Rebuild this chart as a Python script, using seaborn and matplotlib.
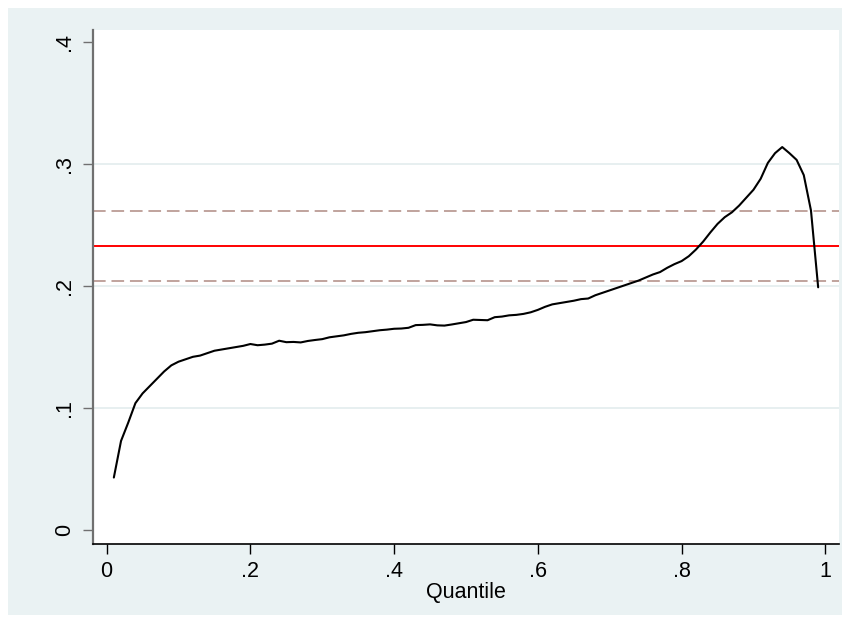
import numpy as np
import pandas as pd
import seaborn as sns
import matplotlib.pyplot as plt
from matplotlib.patches import Rectangle

# quantile process estimates
quantiles = [round(0.01 * i, 2) for i in range(1, 100)]
coef = [
    0.043, 0.073, 0.088, 0.104, 0.112, 0.118, 0.124, 0.130, 0.135, 0.138,
    0.140, 0.142, 0.143, 0.145, 0.147, 0.148, 0.149, 0.150, 0.151, 0.1525,
    0.1515, 0.152, 0.1528, 0.1552, 0.154, 0.1542, 0.1538, 0.155, 0.1558, 0.1565,
    0.158, 0.1588, 0.1596, 0.1608, 0.1617, 0.1622, 0.1630, 0.1638, 0.1643, 0.1650,
    0.1652, 0.1658, 0.1680, 0.1682, 0.1686, 0.1678, 0.1676, 0.1685, 0.1695, 0.1705,
    0.1724, 0.1722, 0.1720, 0.1745, 0.1750, 0.1760, 0.1764, 0.1772, 0.1785, 0.1805,
    0.1830, 0.1850, 0.1860, 0.1870, 0.1880, 0.1893, 0.1898, 0.1925, 0.1945, 0.1965,
    0.1985, 0.2005, 0.2025, 0.2045, 0.2070, 0.2095, 0.2115, 0.2150, 0.2180, 0.2205,
    0.2245, 0.2300, 0.2365, 0.2440, 0.2510, 0.2565, 0.2605, 0.2660, 0.2725, 0.2790,
    0.2880, 0.3010, 0.3090, 0.3140, 0.3090, 0.3035, 0.2910, 0.2620, 0.1990,
]

# OLS estimate and its confidence bounds
ols_coef = 0.233
ols_lo = 0.2045
ols_hi = 0.2615

xticks = [0, 0.2, 0.4, 0.6, 0.8, 1]
xticklabels = ["0", ".2", ".4", ".6", ".8", "1"]
yticks = [0, 0.1, 0.2, 0.3, 0.4]
yticklabels = ["0", ".1", ".2", ".3", ".4"]

df = pd.DataFrame({"Quantile": quantiles, "coef": coef})

sns.set_style("white")
plt.rcParams['font.family'] = ['Liberation Sans', 'DejaVu Sans']

bg = "#EAF2F3"
fig = plt.figure(figsize=(8.5, 6.23), dpi=100)
fig.patch.set_facecolor("white")
fig.patches.append(Rectangle((8 / 850, 8 / 623), 834 / 850, 607 / 623,
                             transform=fig.transFigure, facecolor=bg,
                             edgecolor="none", zorder=-10))

ax = fig.add_axes([93 / 850, 1 - 544 / 623, 746 / 850, 514 / 623])
ax.set_facecolor("white")

for y in [0.1, 0.2, 0.3]:
    ax.axhline(y, color="#E3ECEE", lw=1.2, zorder=1)

ax.axhline(ols_hi, color="#C0A39D", lw=1.4, dashes=(6.5, 3), zorder=2)
ax.axhline(ols_lo, color="#C0A39D", lw=1.4, dashes=(6.5, 3), zorder=2)
ax.axhline(ols_coef, color="#FF0000", lw=1.4, zorder=2)

sns.lineplot(data=df, x="Quantile", y="coef", color="black", lw=1.5, ax=ax, zorder=3)

ax.set_xlim(-0.019, 1.019)
ax.set_ylim(-0.0115, 0.41)
ax.set_xticks(xticks)
ax.set_xticklabels(xticklabels)
ax.set_yticks(yticks)
ax.set_yticklabels(yticklabels, rotation=90, va="center")
ax.tick_params(axis="both", direction="out", length=7, width=1, labelsize=15.5,
               labelcolor="black", pad=5, bottom=True, left=True)
ax.tick_params(axis="x", color="black", pad=5)
ax.tick_params(axis="y", color="#707070", pad=6)
ax.set_xlabel("Quantile", fontsize=15.5, color="black", labelpad=0)
ax.set_ylabel("")

for side in ["top", "right"]:
    ax.spines[side].set_visible(False)
ax.spines["left"].set_color("#707070")
ax.spines["left"].set_linewidth(1.6)
ax.spines["bottom"].set_color("black")
ax.spines["bottom"].set_linewidth(1.2)

fig.savefig("out.png", dpi=100, facecolor=fig.get_facecolor())
